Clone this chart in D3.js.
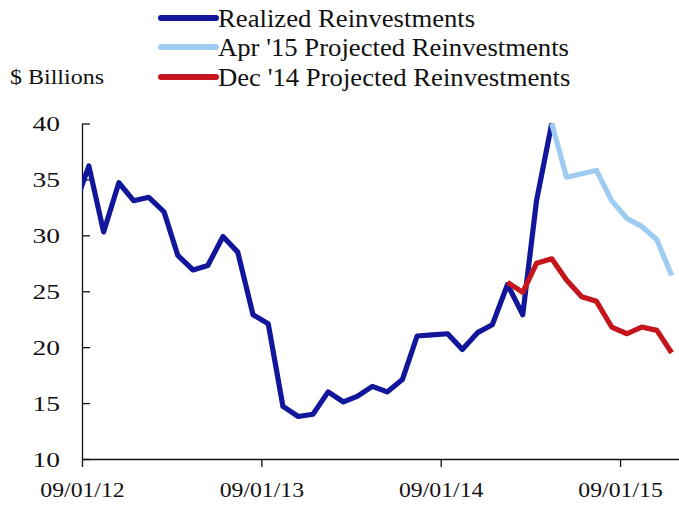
<!DOCTYPE html>
<html>
<head>
<meta charset="utf-8">
<script src="https://cdn.jsdelivr.net/npm/d3@7"></script>
<style>
  html, body { margin: 0; padding: 0; background: #fff; }
  svg { display: block; }
  text { font-family: "Liberation Serif", "Times New Roman", serif; fill: #111; }
</style>
</head>
<body>
<svg id="chart" width="679" height="506"></svg>
<script>
// ---- Data ----
const realizedMonths = ["2012-08","2012-09","2012-10","2012-11","2012-12","2013-01","2013-02","2013-03","2013-04","2013-05","2013-06","2013-07","2013-08","2013-09","2013-10","2013-11","2013-12","2014-01","2014-02","2014-03","2014-04","2014-05","2014-06","2014-07","2014-08","2014-09","2014-10","2014-11","2014-12","2015-01","2015-02","2015-03","2015-04"];
const realizedValues = [32.4,36.2,30.3,34.7,33.1,33.4,32.1,28.2,26.9,27.3,29.9,28.5,22.9,22.1,14.7,13.8,14.0,16.0,15.1,15.6,16.5,16.0,17.1,21.0,21.1,21.2,19.8,21.3,22.0,25.6,22.9,33.1,40.0];

const apr15Months = ["2015-04","2015-05","2015-06","2015-07","2015-08","2015-09","2015-10","2015-11","2015-12"];
const apr15Values = [40.0,35.2,35.5,35.8,33.1,31.5,30.8,29.6,26.4];

const dec14Months = ["2015-01","2015-02","2015-03","2015-04","2015-05","2015-06","2015-07","2015-08","2015-09","2015-10","2015-11","2015-12"];
const dec14Values = [25.8,24.9,27.5,27.9,26.0,24.5,24.1,21.8,21.2,21.8,21.5,19.5];

const xTickDates = ["2012-09-01","2013-09-01","2014-09-01","2015-09-01"];
const yTickValues = [10,15,20,25,30,35,40];

const seriesNames = ["Realized Reinvestments","Apr '15 Projected Reinvestments","Dec '14 Projected Reinvestments"];
const seriesColors = ["#12169a","#9dcbf1","#c4161c"];
const yAxisTitle = "$ Billions";

// ---- Layout ----
const svg = d3.select("#chart");
const mLeft = 82, mRight = 680, mTop = 123.5, mBottom = 459;
const stretch = 1.09; // the reference type is slightly wide
const parseDay = d3.timeParse("%Y-%m-%d");
const monthToDate = m => parseDay(m + "-15");

const x = d3.scaleTime()
  .domain([parseDay("2012-09-01"), parseDay("2016-01-01")])
  .range([mLeft, mRight]);
const y = d3.scaleLinear().domain([10, 40]).range([mBottom, mTop]);

const toPts = (months, vals) => months.map((m, i) => ({ date: monthToDate(m), v: vals[i] }));
const series = [
  toPts(realizedMonths, realizedValues),
  toPts(apr15Months, apr15Values),
  toPts(dec14Months, dec14Values)
];

svg.append("defs").append("clipPath").attr("id", "plotclip")
  .append("rect").attr("x", mLeft).attr("y", 0).attr("width", 679 - mLeft).attr("height", 506);

// Axes
const xAxis = d3.axisBottom(x)
  .tickValues(xTickDates.map(parseDay))
  .tickFormat(d3.timeFormat("%m/%d/%y"))
  .tickSizeInner(8).tickSizeOuter(0).tickPadding(14);
const gx = svg.append("g").attr("transform", `translate(0,${mBottom})`).call(xAxis);
gx.select(".domain").attr("stroke", "#111").attr("stroke-width", 1.3);
gx.selectAll(".tick line").attr("stroke", "#111").attr("stroke-width", 1.3);
gx.selectAll(".tick text").style("font-size", "22px").attr("fill", "#111")
  .attr("transform", "scale(1.08,1)");

const yAxis = d3.axisRight(y)
  .tickValues(yTickValues)
  .tickSizeInner(8).tickSizeOuter(0).tickFormat(d3.format("d"));
const gy = svg.append("g").attr("transform", `translate(${mLeft},0)`).call(yAxis);
gy.select(".domain").attr("stroke", "#111").attr("stroke-width", 1.3);
gy.selectAll(".tick line").attr("stroke", "#111").attr("stroke-width", 1.3);
gy.selectAll(".tick text").style("font-size", "22px").attr("fill", "#111")
  .attr("text-anchor", "end").attr("x", -22 / 1.25)
  .attr("transform", "scale(1.25,1)");

// Lines
const line = d3.line().x(d => x(d.date)).y(d => y(d.v));
const plot = svg.append("g").attr("clip-path", "url(#plotclip)");
series.forEach((s, i) => {
  plot.append("path").datum(s)
    .attr("fill", "none")
    .attr("stroke", seriesColors[i])
    .attr("stroke-width", 5.2)
    .attr("stroke-linejoin", "round")
    .attr("stroke-linecap", "butt")
    .attr("d", line);
});

// Legend
const legY = [18, 47, 77];
const leg = svg.append("g");
seriesNames.forEach((name, i) => {
  leg.append("line")
    .attr("x1", 161).attr("x2", 216)
    .attr("y1", legY[i]).attr("y2", legY[i])
    .attr("stroke", seriesColors[i]).attr("stroke-width", 6)
    .attr("stroke-linecap", "round");
  leg.append("text")
    .attr("transform", `translate(218,${legY[i] + 8.5}) scale(${stretch},1)`)
    .style("font-size", "24.5px")
    .text(name);
});

svg.append("text")
  .attr("transform", `translate(10,84) scale(1.2,1)`)
  .style("font-size", "20px")
  .text(yAxisTitle);
</script>
</body>
</html>
